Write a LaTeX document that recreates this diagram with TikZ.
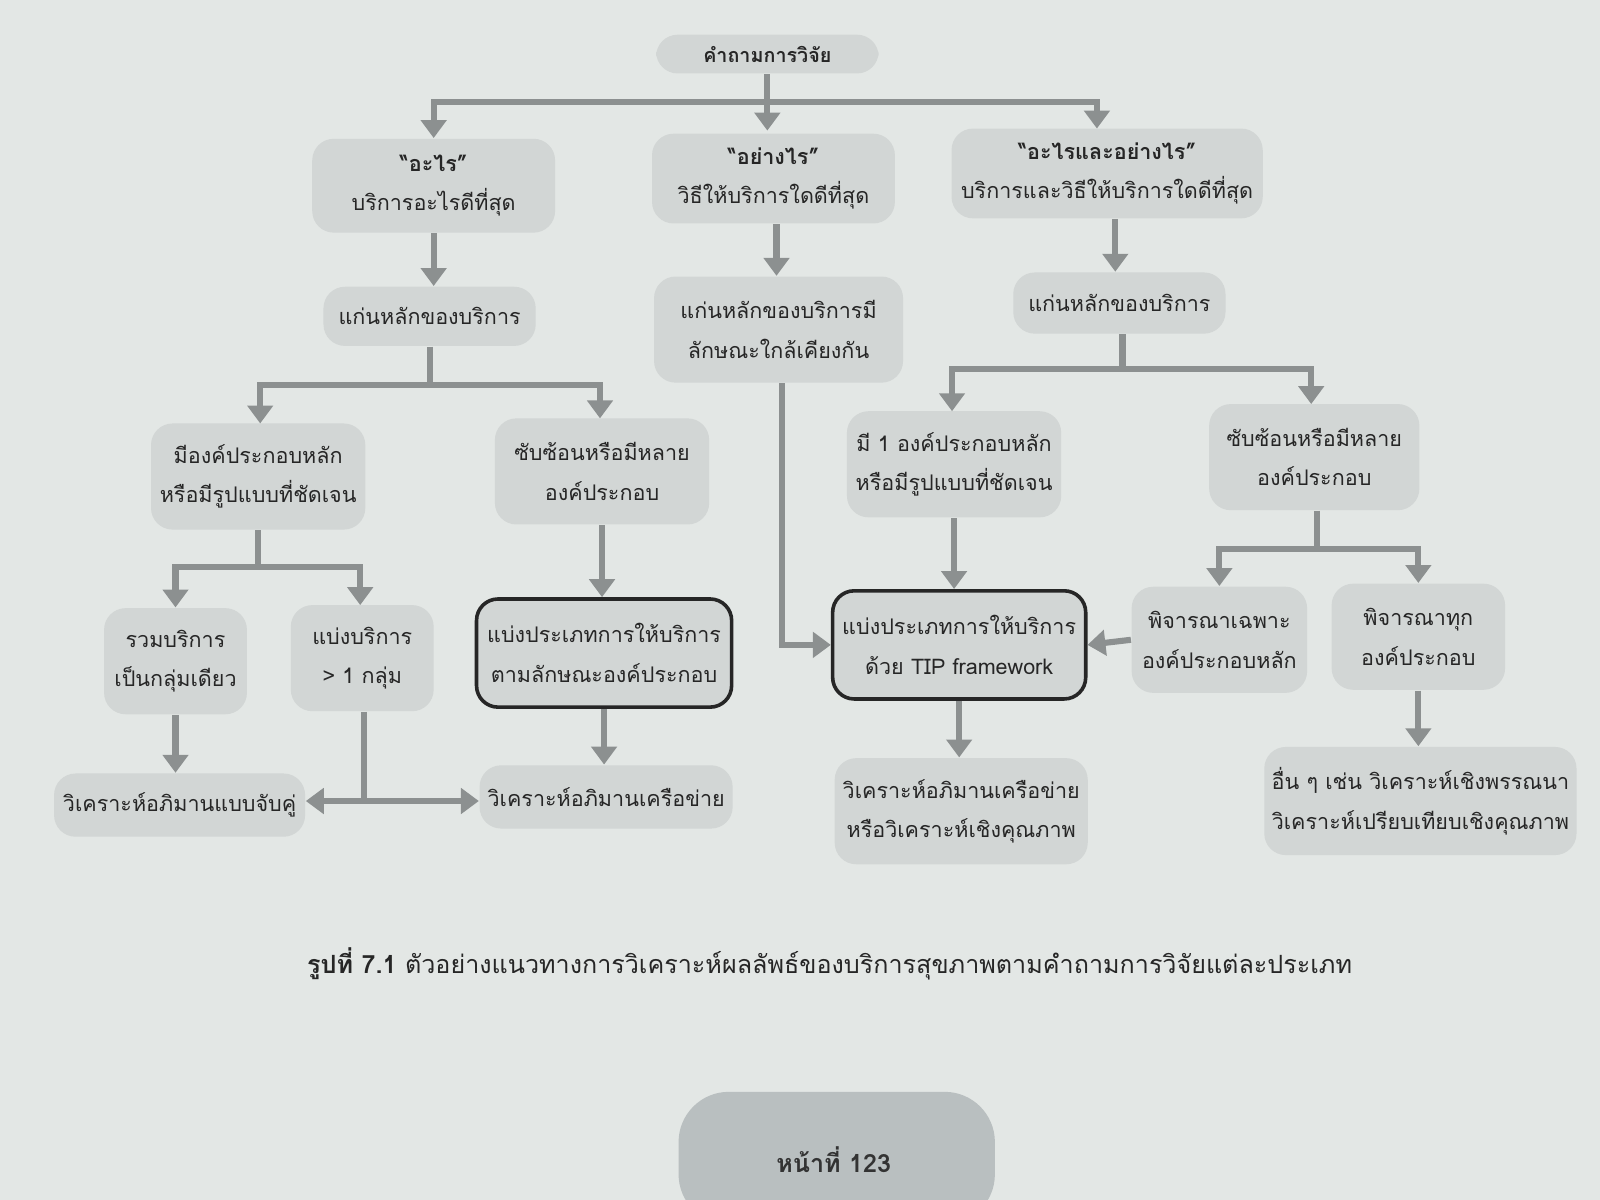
\documentclass[tikz,border=0pt]{standalone}
\usepackage{fontspec}
\setmainfont[Script=Thai]{Loma}
\usetikzlibrary{arrows.meta}
\definecolor{bg}{HTML}{E3E7E5}
\definecolor{boxc}{HTML}{D2D6D5}
\definecolor{arr}{HTML}{8C9090}
\definecolor{pg}{HTML}{B9BFC0}
\tikzset{
 bx/.style={fill=boxc,rounded corners=6pt,align=center,font=\fontsize{6}{11}\selectfont,inner sep=0pt,text=black!85},
 obx/.style={bx,draw=black!85,line width=1pt},
 wd/.style={minimum width=#1*0.01cm},
 ht/.style={minimum height=#1*0.01cm},
 ar/.style={draw=arr,line width=1.7pt,-{Triangle[length=5pt,width=7pt]}},
 ln/.style={draw=arr,line width=1.7pt},
}
\begin{document}
\begin{tikzpicture}[x=0.01cm,y=-0.01cm]
\fill[bg] (0,0) rectangle (1568,1176);
\useasboundingbox (0,0) rectangle (1568,1176);
\node[bx,wd=218,ht=38,font=\bfseries\fontsize{5.5}{10}\selectfont] (q) at (752,53) {คำถามการวิจัย};
\node[bx,wd=238,ht=92] (a1) at (425,182) {\textbf{“อะไร”}\\บริการอะไรดีที่สุด};
\node[bx,wd=238,ht=88] (a2) at (758,175) {\textbf{“อย่างไร”}\\วิธีให้บริการใดดีที่สุด};
\node[bx,wd=305,ht=88] (a3) at (1085,170) {\textbf{“อะไรและอย่างไร”}\\บริการและวิธีให้บริการใดดีที่สุด};
\node[bx,wd=208,ht=58] (b1) at (421,310) {แก่นหลักของบริการ};
\node[bx,wd=244,ht=104] (b2) at (763,323) {แก่นหลักของบริการมี\\ลักษณะใกล้เคียงกัน};
\node[bx,wd=208,ht=60] (b3) at (1097,297) {แก่นหลักของบริการ};
\node[bx,wd=210,ht=104] (c1) at (253,467) {มีองค์ประกอบหลัก\\หรือมีรูปแบบที่ชัดเจน};
\node[bx,wd=210,ht=104] (c2) at (590,462) {ซับซ้อนหรือมีหลาย\\องค์ประกอบ};
\node[bx,wd=210,ht=104] (c3) at (935,455) {มี 1 องค์ประกอบหลัก\\หรือมีรูปแบบที่ชัดเจน};
\node[bx,wd=206,ht=104] (c4) at (1288,448) {ซับซ้อนหรือมีหลาย\\องค์ประกอบ};
\node[bx,wd=140,ht=104] (d1) at (172,648) {รวมบริการ\\เป็นกลุ่มเดียว};
\node[bx,wd=140,ht=104] (d2) at (355,645) {แบ่งบริการ\\> 1 กลุ่ม};
\node[obx,wd=250,ht=106] (d3) at (592,640) {แบ่งประเภทการให้บริการ\\ตามลักษณะองค์ประกอบ};
\node[obx,wd=248,ht=106] (d4) at (940,632) {แบ่งประเภทการให้บริการ\\ด้วย TIP framework};
\node[bx,wd=172,ht=104] (d5) at (1195,627) {พิจารณาเฉพาะ\\องค์ประกอบหลัก};
\node[bx,wd=170,ht=104] (d6) at (1390,624) {พิจารณาทุก\\องค์ประกอบ};
\node[bx,wd=246,ht=62] (e1) at (176,789) {วิเคราะห์อภิมานแบบจับคู่};
\node[bx,wd=248,ht=62] (e2) at (594,781) {วิเคราะห์อภิมานเครือข่าย};
\node[bx,wd=248,ht=104] (e3) at (942,795) {วิเคราะห์อภิมานเครือข่าย\\หรือวิเคราะห์เชิงคุณภาพ};
\node[bx,wd=306,ht=106] (e4) at (1392,785) {อื่น ๆ เช่น วิเคราะห์เชิงพรรณนา\\วิเคราะห์เปรียบเทียบเชิงคุณภาพ};
% connectors
\coordinate (qb) at (752,100);
\draw[ln] (q.south) -- (qb);
\draw[ar] (qb) -| (a1.north);
\draw[ar] (qb) -- (752,128);
\draw[ar] (qb) -| (1075,126);
\draw[ar] (a1.south) -- (b1.north -| a1.south);
\draw[ar] (a2.south -| 761,0) -- (b2.north -| 761,0);
\draw[ar] (a3.south -| 1093,0) -- (b3.north -| 1093,0);
\coordinate (b1b) at (421,377);
\draw[ln] (b1.south) -- (b1b);
\draw[ar] (b1b) -| (255,415);
\draw[ar] (b1b) -| (588,410);
\coordinate (b3b) at (1100,362);
\draw[ln] (b3.south -| b3b) -- (b3b);
\draw[ar] (b3b) -| (933,403);
\draw[ar] (b3b) -| (1285,396);
\coordinate (c1b) at (253,556);
\draw[ln] (c1.south) -- (c1b);
\draw[ar] (c1b) -| (d1.north);
\draw[ar] (c1b) -| (353,593);
\draw[ar] (c2.south) -- (d3.north -| c2.south);
\draw[ar] (c3.south) -- (d4.north -| c3.south);
\coordinate (c4b) at (1291,538);
\draw[ln] (c4.south -| c4b) -- (c4b);
\draw[ar] (c4b) -| (d5.north);
\draw[ar] (c4b) -| (d6.north);
\draw[ar] (b2.south -| 766,0) |- (d4.west);
\draw[ar] (d5.west) -- (d4.east);
\draw[ar] (d1.south) -- (e1.north -| d1.south);
\coordinate (d2b) at (357,785);
\draw[ln] (d2.south -| d2b) -- (d2b);
\draw[ar] (d2b) -- (e1.east |- d2b);
\draw[ar] (d2b) -- (e2.west |- d2b);
\draw[ar] (d3.south) -- (e2.north -| d3.south);
\draw[ar] (d4.south) -- (e3.north -| d4.south);
\draw[ar] (d6.south) -- (e4.north -| d6.south);
% caption
\node[font=\fontsize{7}{9}\selectfont,text=black!85] (cap) at (813,945) {\textbf{รูปที่ 7.1} ตัวอย่างแนวทางการวิเคราะห์ผลลัพธ์ของบริการสุขภาพตามคำถามการวิจัยแต่ละประเภท};
\fill[pg,rounded corners=14pt] (665,1070) rectangle (975,1200);
\node[font=\bfseries\fontsize{7}{9}\selectfont,text=black!80] (pgn) at (817,1136) {หน้าที่ 123};
\end{tikzpicture}
\end{document}
